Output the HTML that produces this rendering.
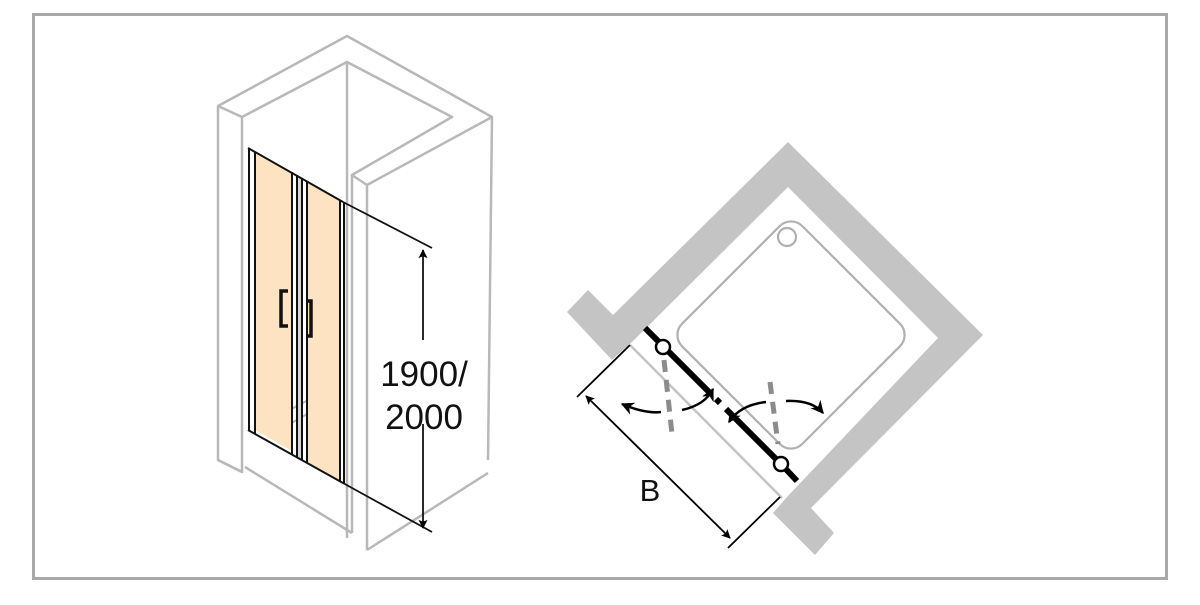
<!DOCTYPE html>
<html><head><meta charset="utf-8"><style>
html,body{margin:0;padding:0;background:#fff;}
svg{display:block;}
</style></head><body>
<svg width="1200" height="605" viewBox="0 0 1200 605" xmlns="http://www.w3.org/2000/svg">
<defs>
<marker id="ah" viewBox="0 0 10 10" refX="9" refY="5" markerWidth="10" markerHeight="9" orient="auto-start-reverse" markerUnits="userSpaceOnUse">
<path d="M0,0 L10,5 L0,10 L2,5 z" fill="#000"/></marker>
<marker id="ah2" viewBox="0 0 10 10" refX="9" refY="5" markerWidth="13" markerHeight="13" orient="auto-start-reverse" markerUnits="userSpaceOnUse">
<path d="M0,0 L10,5 L0,10 L3,5 z" fill="#000"/></marker>
</defs>
<rect x="33.5" y="14.5" width="1133" height="564" fill="none" stroke="#a9a9a9" stroke-width="3"/>

<g fill="none" stroke="#b8b8b8" stroke-width="2.5" stroke-linejoin="round">
<polygon points="218,106 242,117 242,472 218,460"/>
<polyline points="218,106 347,36 492,117 488,460"/>
<polyline points="242,117 347,62 452,117 352,175 367,185 492,117"/>
<line x1="347" y1="62" x2="347" y2="538"/>
<line x1="352" y1="175" x2="352" y2="533"/>
<line x1="367" y1="185" x2="367" y2="550"/>
<polyline points="245,467 352,533"/>
<polyline points="367,550 488,473"/>
<line x1="218" y1="460" x2="242" y2="472"/>
<polyline points="258,427 338,384" stroke-width="2"/>
<polyline points="268,437 300,418 340,396" stroke-width="2"/>
</g>
<polygon points="255,152 292,173 292,451 255,430" fill="#fde3c2"/>
<polygon points="307,181 340,200 340,482 307,462" fill="#fde3c2"/>
<polygon points="297,175 302,178 302,460 297,458" fill="#d8d8d8"/>
<g stroke="#111" fill="none" stroke-width="2">
<line x1="248" y1="148" x2="343" y2="202"/>
<line x1="248" y1="430" x2="343" y2="483"/>
<line x1="249" y1="148" x2="249" y2="431"/>
<line x1="255" y1="152" x2="255" y2="434"/>
<line x1="292" y1="172" x2="292" y2="455"/>
<line x1="297" y1="175" x2="297" y2="458"/>
<line x1="302" y1="178" x2="302" y2="460"/>
<line x1="307" y1="181" x2="307" y2="463"/>
<line x1="340" y1="200" x2="340" y2="482"/>
<line x1="344" y1="202" x2="344" y2="484"/>
<line x1="343" y1="202" x2="432" y2="248" stroke-width="1.8"/>
<line x1="343" y1="483" x2="432" y2="532" stroke-width="1.8"/>
<line x1="423" y1="250" x2="423" y2="340" stroke-width="1.8" marker-start="url(#ah)"/>
<line x1="423" y1="424" x2="423" y2="528" stroke-width="1.8" marker-end="url(#ah)"/>
</g>
<path d="M288,291 L281,291 L281,326 L288,326" fill="none" stroke="#111" stroke-width="3.5"/>
<path d="M307,301 L311,301 L311,336 L307,336" fill="none" stroke="#111" stroke-width="3.5"/>
<text x="424" y="386" font-family="Liberation Sans, sans-serif" font-size="35" text-anchor="middle" fill="#111">1900/</text>
<text x="424" y="429" font-family="Liberation Sans, sans-serif" font-size="35" text-anchor="middle" fill="#111">2000</text>

<polygon points="567,312 588,290 613,315 788,142 983,335 811,508 834,533 815,555 773,513 787,497 938,338 788,187 632,342 612,360" fill="#c4c4c4"/>
<line x1="630" y1="345" x2="782" y2="498" stroke="#c4c4c4" stroke-width="2.5"/>
<rect x="706" y="250" width="170" height="170" rx="16" transform="rotate(45 791 335)" fill="none" stroke="#b0b0b0" stroke-width="2.2"/>
<circle cx="787" cy="237" r="9" fill="#fff" stroke="#b0b0b0" stroke-width="2.2"/>
<g stroke="#8c8c8c" stroke-width="5" stroke-dasharray="12,8">
<line x1="664" y1="360" x2="672" y2="434"/>
<line x1="770" y1="382" x2="778" y2="444"/>
</g>
<g stroke="#000" stroke-width="6">
<line x1="645" y1="328" x2="710" y2="393"/>
<line x1="716" y1="399" x2="720" y2="403"/>
<line x1="726" y1="409" x2="782" y2="465"/>
<line x1="782" y1="465" x2="797" y2="481"/>
</g>
<circle cx="663" cy="347" r="7" fill="#fff" stroke="#000" stroke-width="2.5"/>
<circle cx="781" cy="464" r="7" fill="#fff" stroke="#000" stroke-width="2.5"/>
<g fill="none" stroke="#000" stroke-width="2.5">
<path d="M622,404 Q645,414 661,412" marker-start="url(#ah2)"/>
<path d="M682,410 Q705,405 713,389" marker-end="url(#ah2)"/>
<path d="M729,422 Q740,405 766,402" marker-start="url(#ah2)"/>
<path d="M786,401 Q812,400 823,413" marker-end="url(#ah2)"/>
</g>
<g stroke="#000" stroke-width="1.8" fill="none">
<line x1="577" y1="397" x2="630" y2="345"/>
<line x1="728" y1="548" x2="780" y2="497"/>
<line x1="586" y1="396" x2="730" y2="538" marker-start="url(#ah)" marker-end="url(#ah)"/>
</g>
<text x="650" y="501" font-family="Liberation Sans, sans-serif" font-size="31" text-anchor="middle" fill="#111">B</text>
</svg>
</body></html>
